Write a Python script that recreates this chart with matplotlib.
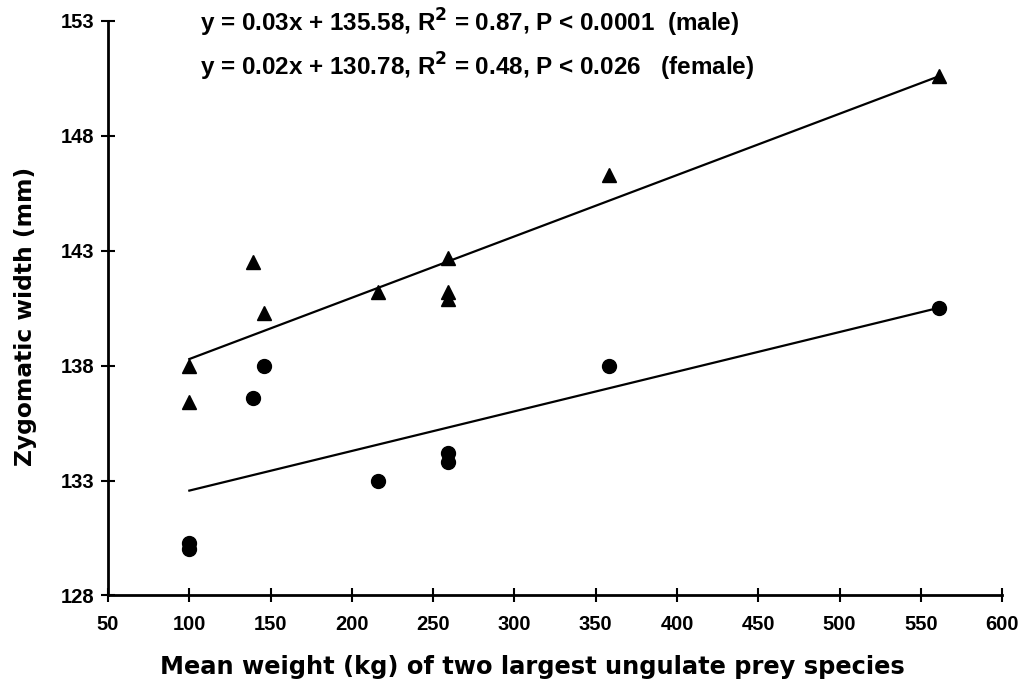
import numpy as np
import matplotlib
matplotlib.use("Agg")
import matplotlib.pyplot as plt

plt.rcParams['font.family'] = ['Liberation Sans', 'DejaVu Sans']

# Data
male_x = [100, 100, 139, 146, 216, 259, 259, 259, 358, 561]
male_y = [138.0, 136.4, 142.5, 140.3, 141.2, 142.7, 141.2, 140.9, 146.3, 150.6]
female_x = [100, 100, 139, 146, 216, 259, 259, 358, 561]
female_y = [130.3, 130.0, 136.6, 138.0, 133.0, 134.2, 133.8, 138.0, 140.5]

x_ticks = [50, 100, 150, 200, 250, 300, 350, 400, 450, 500, 550, 600]
y_ticks = [128, 133, 138, 143, 148, 153]

eq_male = r"y = 0.03x + 135.58, R$^\mathbf{2}$ = 0.87, P < 0.0001  (male)"
eq_female = r"y = 0.02x + 130.78, R$^\mathbf{2}$ = 0.48, P < 0.026   (female)"

fig = plt.figure(figsize=(10.31, 6.90), dpi=100)
ax = fig.add_axes([0.1048, 0.137, 0.972 - 0.1048, 0.970 - 0.137])

# regression lines
for xs, ys in [(male_x, male_y), (female_x, female_y)]:
    k, b = np.polyfit(xs, ys, 1)
    xl = np.array([min(xs), max(xs)])
    ax.plot(xl, k * xl + b, color='black', lw=1.6, zorder=2)

ax.plot(male_x, male_y, linestyle='none', marker='^', color='black', ms=10.5, zorder=3)
ax.plot(female_x, female_y, linestyle='none', marker='o', color='black', ms=10, zorder=3)

ax.set_xlim(50, 600)
ax.set_ylim(128, 153)
ax.set_xticks(x_ticks)
ax.set_yticks(y_ticks)
ax.set_xticklabels([str(t) for t in x_ticks], fontsize=14.5, fontweight='bold')
ax.set_yticklabels([str(t) for t in y_ticks], fontsize=14.5, fontweight='bold')
ax.tick_params(direction='inout', length=10, width=1.5)
ax.tick_params(axis='y', pad=5)
ax.tick_params(axis='x', pad=9)

for s in ['top', 'right']:
    ax.spines[s].set_visible(False)
for s in ['left', 'bottom']:
    ax.spines[s].set_linewidth(2)

ax.set_xlabel("Mean weight (kg) of two largest ungulate prey species",
              fontsize=17.4, fontweight='bold', family='DejaVu Sans')
ax.set_ylabel("Zygomatic width (mm)", fontsize=16.8, fontweight='bold',
              family='DejaVu Sans')
ax.xaxis.set_label_coords(0.475, -0.104)
ax.yaxis.set_label_coords(-0.079, 0.486)

fig.text(200 / 1031, 1 - 23 / 690, eq_male, fontsize=17.5, fontweight='bold',
         ha='left', va='center')
fig.text(200 / 1031, 1 - 67 / 690, eq_female, fontsize=17.5, fontweight='bold',
         ha='left', va='center')

fig.savefig("out.png", dpi=100)
